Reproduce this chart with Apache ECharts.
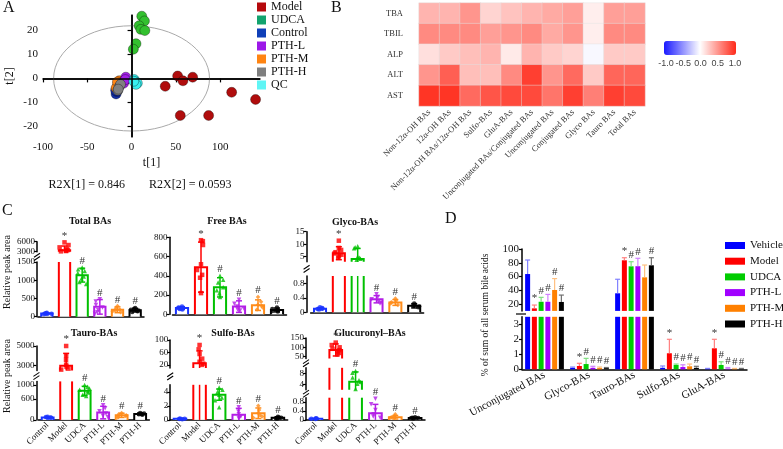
<!DOCTYPE html>
<html>
<head>
<meta charset="utf-8">
<script src="https://cdn.jsdelivr.net/npm/echarts@6/dist/echarts.min.js"></script>
<style>
  html, body { margin: 0; padding: 0; background: #fff; }
  #chart { width: 783px; height: 449px; }
</style>
</head>
<body>
<div id="chart"></div>
<script>
const SERIF = 'Liberation Serif';
const INK = '#111';

// ---------- A: PCA scores ----------
const pcaNames = ['Model', 'UDCA', 'Control', 'PTH-L', 'PTH-M', 'PTH-H', 'QC'];
const pcaLegendColors = ['#b5090c', '#12a36e', '#0f3fb8', '#9c18e8', '#ff8412', '#7f7f7f', '#5ff5f5'];
const pcaDotColors = ['#b00d0d', '#33c02f', '#1430a8', '#a21fe6', '#ff8515', '#808080', '#38f0f0'];
const pcaModel = [[52, 1], [58, -1], [69, 0.5], [38, -3.3], [55, -15.5], [87, -15.5], [113, -5.8], [140, -8.8]];
const pcaUDCA = [[11.5, 26], [14.5, 24], [8.5, 22], [10.5, 20.5], [15, 20], [5, 14.5], [2, 12.2]];
const pcaControl = [[-17.5, -6.5], [-16.5, -5.5], [-18, -5]];
const pcaPTHL = [[-6.5, 0.5], [-8, -1], [-9, -2], [-7, -0.5]];
const pcaPTHM = [[-14, -1], [-15.5, -2.5], [-17.5, -4], [-16, -1.5]];
const pcaPTHH = [[-14, -3.5], [-15.5, -5], [-12.5, -2.5], [-15, -4.5]];
const pcaQC = [[3, -0.5], [4.5, -1.5], [6.5, -2], [5, -2.5], [2.5, -1.2]];
const pcaSets = [pcaModel, pcaUDCA, pcaControl, pcaPTHL, pcaPTHM, pcaPTHH, pcaQC];
const pcaDrawOrder = [2, 4, 3, 5, 6, 1, 0];
const pcaXTicks = [-100, -50, 0, 50, 100];
const pcaYTicks = [-20, -10, 0, 10, 20];
const pcaEllipse = [88, 22];

// ---------- B: correlation heatmap ----------
const corrRows = ['TBA', 'TBIL', 'ALP', 'ALT', 'AST'];
const corrCols = ['Non-12α-OH BAs', '12α-OH BAs', 'Non-12α-OH BAs/12α-OH BAs', 'Sulfo-BAs', 'GluA-BAs',
  'Unconjugated BAs/Conjugated BAs', 'Unconjugated BAs', 'Conjugated BAs', 'Glyco BAs', 'Tauro BAs', 'Total BAs'];
const corrTBA  = [0.35, 0.35, 0.5, 0.2, 0.28, 0.35, 0.4, 0.45, 0.08, 0.45, 0.45];
const corrTBIL = [0.55, 0.55, 0.55, 0.45, 0.5, 0.55, 0.4, 0.5, 0.08, 0.55, 0.55];
const corrALP  = [0.15, 0.25, 0.3, 0.35, 0.1, 0.35, 0.25, 0.2, -0.03, 0.25, 0.25];
const corrALT  = [0.5, 0.75, 0.3, 0.3, 0.55, 0.9, 0.5, 0.7, 0.25, 0.72, 0.72];
const corrAST  = [0.95, 0.95, 0.7, 0.8, 0.85, 0.85, 0.65, 0.9, 0.6, 0.9, 0.85];
const corrMatrix = [corrTBA, corrTBIL, corrALP, corrALT, corrAST];

// ---------- C: bar + scatter panels ----------
const groups = ['Control', 'Model', 'UDCA', 'PTH-L', 'PTH-M', 'PTH-H'];
const groupColors = ['#1a33ff', '#ff0000', '#00c000', '#b31ee6', '#ff8c1a', '#000000'];
const groupSymbols = ['circle', 'rect', 'triangle', 'path://M0,0L10,0L5,9Z', 'diamond', 'circle'];

const totalMean = [88, 3400, 1140, 270, 190, 180];
const totalSd = [15, 1300, 190, 200, 80, 50];
const totalPts = [[110, 95, 90, 80, 75, 70], [5800, 5000, 4300, 3800, 3500, 3300, 3200, 3100],
  [1350, 1300, 1250, 1200, 1100, 1050, 950, 900], [480, 420, 320, 250, 180, 120, 80],
  [290, 230, 200, 170, 150, 120], [240, 210, 190, 170, 150, 130]];
const totalMarks = ['', '*', '#', '#', '#', '#'];
const totalTicksLow = [0, 500, 1000, 1500];
const totalTicksHigh = [3000, 6000];

const freeMean = [65, 490, 280, 80, 95, 45];
const freeSd = [15, 260, 100, 60, 55, 20];
const freePts = [[80, 70, 65, 60, 55, 50], [770, 760, 720, 520, 460, 410, 380, 220],
  [400, 360, 330, 280, 250, 220, 180], [150, 110, 80, 60, 50, 40],
  [180, 130, 100, 90, 70, 50], [70, 55, 45, 35, 30]];
const freeMarks = ['', '*', '#', '#', '#', '#'];
const freeTicks = [0, 200, 400, 600, 800];

const glycoMean = [0.1, 6.4, 4.1, 0.36, 0.27, 0.18];
const glycoSd = [0.03, 2.6, 4.2, 0.1, 0.08, 0.06];
const glycoPts = [[0.14, 0.12, 0.1, 0.09, 0.08], [11.4, 8.5, 7.7, 6.8, 6.3, 5.8, 5.2, 4.6],
  [9.2, 8.8, 8.4, 5.0, 4.6, 4.2, 3.8], [0.5, 0.42, 0.36, 0.3, 0.26, 0.24],
  [0.38, 0.32, 0.28, 0.24, 0.2], [0.24, 0.2, 0.18, 0.16, 0.14]];
const glycoMarks = ['', '*', '', '#', '#', '#'];
const glycoTicksLow = [0, 0.4, 0.8];
const glycoTicksHigh = [5, 10, 15];

const tauroMean = [70, 3000, 830, 210, 130, 170];
const tauroSd = [15, 1250, 130, 180, 60, 25];
const tauroPts = [[90, 80, 70, 60, 55], [5000, 4000, 3600, 3100, 2900, 2700, 2600],
  [1000, 950, 900, 860, 820, 780, 720, 680], [420, 330, 250, 180, 120, 80],
  [200, 160, 130, 110, 90, 70], [200, 185, 170, 160, 150]];
const tauroMarks = ['', '*', '#', '#', '#', '#'];
const tauroTicksLow = [0, 200, 600, 1000];
const tauroTicksHigh = [3000, 5000];

const sulfoMean = [0.15, 25, 3.6, 0.75, 0.95, 0.3];
const sulfoSd = [0.05, 40, 0.8, 0.9, 0.75, 0.15];
const sulfoPts = [[0.2, 0.15, 0.12, 0.1], [84, 70, 55, 40, 30, 24, 20],
  [4.6, 4.3, 4.0, 3.6, 3.2, 2.8, 1.8], [1.8, 1.2, 0.8, 0.5, 0.3, 0.2],
  [2.0, 1.4, 1.0, 0.7, 0.5, 0.3], [0.45, 0.35, 0.3, 0.25, 0.2]];
const sulfoMarks = ['', '*', '#', '#', '#', '#'];
const sulfoTicksLow = [0, 2, 4];
const sulfoTicksHigh = [20, 60, 100];

const glucMean = [0.05, 86, 4.9, 0.3, 0.12, 0.08];
const glucSd = [0.02, 32, 3.6, 0.4, 0.08, 0.04];
const glucPts = [[0.07, 0.06, 0.05, 0.04], [125, 112, 100, 92, 85, 78, 70, 62],
  [8.8, 8.2, 6.5, 5.5, 4.8, 4.2, 2.3], [0.95, 0.7, 0.45, 0.25, 0.15, 0.1],
  [0.25, 0.18, 0.12, 0.1, 0.08], [0.12, 0.1, 0.08, 0.07, 0.06]];
const glucMarks = ['', '*', '#', '#', '#', '#'];
const glucTicksLow = [0, 0.4, 0.8];
const glucTicksMid = [4, 8];
const glucTicksHigh = [50, 100, 150];

// ---------- D: % of serum bile acids ----------
const dCats = ['Unconjugated BAs', 'Glyco-BAs', 'Tauro-BAs', 'Sulfo-BAs', 'GluA-BAs'];
const dNames = ['Vehicle', 'Model', 'UDCA', 'PTH-L', 'PTH-M', 'PTH-H'];
const dColors = ['#0000ff', '#ff0000', '#00cc00', '#a000ff', '#ff8000', '#000000'];
const dErrColors = ['#8080ff', '#ff8080', '#80e080', '#d080ff', '#ffc080', '#707070'];
const dVehicle = [63.6, 0.1, 35.6, 0.1, 0.04];
const dModel = [13.7, 0.22, 83.6, 1.07, 1.4];
const dUDCA = [23.3, 0.35, 74.8, 0.29, 0.29];
const dPTHL = [23.3, 0.1, 75, 0.15, 0.05];
const dPTHM = [40.4, 0.08, 58.8, 0.2, 0.03];
const dPTHH = [23, 0.08, 76.3, 0.1, 0.03];
const dMeans = [dVehicle, dModel, dUDCA, dPTHL, dPTHM, dPTHH];
const dErrVehicle = [84, 0.15, 56, 0.22, 0.06];
const dErrModel = [18.5, 0.4, 87.3, 2.0, 2.0];
const dErrUDCA = [29.7, 0.73, 81.5, 0.35, 0.5];
const dErrPTHL = [34, 0.2, 86.5, 0.3, 0.12];
const dErrPTHM = [57, 0.15, 76.7, 0.35, 0.06];
const dErrPTHH = [33, 0.12, 87.3, 0.2, 0.06];
const dErrTops = [dErrVehicle, dErrModel, dErrUDCA, dErrPTHL, dErrPTHM, dErrPTHH];
const dMarks = [['', '', '', '', ''], ['*', '*', '*', '*', '*'], ['#', '#', '#', '#', '#'],
  ['#', '#', '#', '#', '#'], ['#', '#', '', '#', '#'], ['#', '#', '#', '#', '#']];
const dTicksLow = [0, 1, 2, 3];
const dTicksHigh = [20, 40, 60, 80, 100];

// ---------------------------------------------------------------
const chart = echarts.init(document.getElementById('chart'));
const grid = [], xAxis = [], yAxis = [], series = [], graphic = [];

function addGrid(g, xa, ya) {
  const i = grid.length;
  grid.push(g);
  xAxis.push(Object.assign({ gridIndex: i }, xa));
  yAxis.push(Object.assign({ gridIndex: i }, ya));
  return i;
}

function txt(x, y, text, size, extra) {
  graphic.push(Object.assign({
    type: 'text', x, y, silent: true,
    style: Object.assign({ text, fontFamily: SERIF, fontSize: size, fill: INK,
      align: 'left', verticalAlign: 'top', textAlign: 'left', textVerticalAlign: 'top' }, (extra && extra.style) || {})
  }, extra ? { rotation: extra.rotation || 0 } : {}));
}

// the little "//" drawn across a broken y axis
function breakMark(x, y) {
  [-1.6, 1.6].forEach(d => graphic.push({ type: 'line', silent: true, z: 10,
    shape: { x1: x - 3, y1: y + d + 2, x2: x + 3, y2: y + d - 2 }, style: { stroke: '#000', lineWidth: 1.1 } }));
}

const axisBlack = { color: '#000', width: 1.5 };
const tickBlack = { color: '#000', width: 1.2 };
const plainNum = v => String(v);

// custom bars / error bars / significance marks, clamped to one axis segment
function makeMarks(gi, seg, isTop, items) {
  return {
    type: 'custom', xAxisIndex: gi, yAxisIndex: gi, silent: true, z: 3,
    data: items.map(it => [it.x, seg.min]),
    renderItem(params, api) {
      const it = items[params.dataIndex];
      const band = api.size([1, 0])[0];
      const cx = api.coord([it.x, seg.min])[0] + (it.dx || 0);
      const cl = v => Math.max(seg.min, Math.min(seg.max, v));
      const py = v => api.coord([it.x, cl(v)])[1];
      const inside = v => v >= seg.min && v <= seg.max;
      const kids = [];
      if (it.bar != null && it.bar > seg.min) {
        const w = band * it.barFrac, x0 = cx - w / 2, x1 = cx + w / 2;
        const y0 = py(seg.min), y1 = py(it.bar);
        kids.push({ type: 'rect', shape: { x: x0, y: y1, width: w, height: y0 - y1 }, style: { fill: '#fff' } });
        const ln = { stroke: it.color, lineWidth: 2, fill: null };
        if (inside(it.bar)) {
          kids.push({ type: 'polyline', shape: { points: [[x0, y0], [x0, y1], [x1, y1], [x1, y0]] }, style: ln });
        } else {
          kids.push({ type: 'line', shape: { x1: x0, y1: y0, x2: x0, y2: y1 }, style: ln });
          kids.push({ type: 'line', shape: { x1: x1, y1: y0, x2: x1, y2: y1 }, style: ln });
        }
      }
      if (it.hi > seg.min && it.lo < seg.max) {
        const ya = py(it.lo), yb = py(it.hi);
        const st = { stroke: it.ecolor, lineWidth: it.lw };
        kids.push({ type: 'line', shape: { x1: cx, y1: ya, x2: cx, y2: yb }, style: st });
        if (inside(it.hi)) kids.push({ type: 'line', shape: { x1: cx - it.cap / 2, y1: yb, x2: cx + it.cap / 2, y2: yb }, style: st });
        if (it.capLo && inside(it.lo) && it.lo > seg.min) kids.push({ type: 'line', shape: { x1: cx - it.cap / 2, y1: ya, x2: cx + it.cap / 2, y2: ya }, style: st });
      }
      if (it.mark && it.top >= seg.min && (it.top <= seg.max || isTop)) {
        const ty = api.coord([it.x, it.top])[1] - 1;
        kids.push({ type: 'text', x: cx, y: ty, style: { text: it.mark, fontFamily: SERIF, fontSize: 11, fill: '#333',
          align: 'center', verticalAlign: 'bottom', textAlign: 'center', textVerticalAlign: 'bottom' } });
      }
      return { type: 'group', children: kids };
    }
  };
}

// ---------- A ----------
const gA = addGrid({ left: 43, top: 15, width: 217, height: 122 },
  { type: 'value', min: -100, max: 145, name: 't[1]', nameLocation: 'middle', nameGap: 20,
    nameTextStyle: { fontFamily: SERIF, fontSize: 12, color: INK },
    axisLine: { lineStyle: axisBlack }, axisTick: { customValues: pcaXTicks, length: 4, lineStyle: tickBlack },
    axisLabel: { customValues: pcaXTicks, fontFamily: SERIF, fontSize: 11, color: INK, margin: 5 }, splitLine: { show: false } },
  { type: 'value', min: -24.5, max: 26.5, name: 't[2]', nameLocation: 'middle', nameGap: 27,
    nameTextStyle: { fontFamily: SERIF, fontSize: 12, color: INK },
    axisLine: { lineStyle: axisBlack }, axisTick: { customValues: pcaYTicks, length: 4, lineStyle: tickBlack },
    axisLabel: { customValues: pcaYTicks, fontFamily: SERIF, fontSize: 11, color: INK, margin: 5 }, splitLine: { show: false } });

series.push({
  type: 'custom', xAxisIndex: gA, yAxisIndex: gA, silent: true, z: 1, data: [[0, 0]],
  renderItem(params, api) {
    const c = api.coord([0, 0]);
    const s = api.size([pcaEllipse[0], pcaEllipse[1]]);
    return { type: 'ellipse', shape: { cx: c[0], cy: c[1], rx: s[0], ry: s[1] }, style: { fill: null, stroke: '#a9a9a9', lineWidth: 1 } };
  },
  markLine: { silent: true, symbol: 'none', label: { show: false }, animation: false,
    lineStyle: { color: '#000', width: 1.5, type: 'solid' }, data: [{ xAxis: 0 }, { yAxis: 0 }] }
});
pcaDrawOrder.forEach(k => {
  series.push({ type: 'scatter', name: pcaNames[k], xAxisIndex: gA, yAxisIndex: gA, z: 2, data: pcaSets[k], symbolSize: 10,
    itemStyle: { color: pcaDotColors[k], borderColor: 'rgba(0,0,0,0.55)', borderWidth: 0.6, opacity: 1 } });
});
txt(140, 185, 'R2X[1] = 0.846        R2X[2] = 0.0593', 12, { style: { align: 'center', textAlign: 'center', verticalAlign: 'middle', textVerticalAlign: 'middle' } });

// ---------- B ----------
const gB = addGrid({ left: 419, top: 3, width: 226, height: 103 },
  { type: 'category', data: corrCols, axisLine: { show: false }, axisTick: { show: false },
    axisLabel: { rotate: 45, interval: 0, fontFamily: SERIF, fontSize: 8.5, color: '#333', margin: 5 } },
  { type: 'category', data: corrRows, inverse: true, axisLine: { show: false }, axisTick: { show: false },
    axisLabel: { fontFamily: SERIF, fontSize: 8.5, color: '#333', margin: 16 } });
const heatIndex = series.length;
series.push({ type: 'heatmap', xAxisIndex: gB, yAxisIndex: gB, silent: true,
  data: corrMatrix.flatMap((row, r) => row.map((v, c) => [c, r, v])),
  itemStyle: { borderColor: 'rgba(225,225,225,0.7)', borderWidth: 0.6 } });
const gCb = addGrid({ left: 666, top: 55, width: 69, height: 1 },
  { type: 'value', min: -1, max: 1, interval: 0.5, axisLine: { show: false }, axisTick: { show: false }, splitLine: { show: false },
    axisLabel: { formatter: v => v.toFixed(1), fontFamily: 'Liberation Sans', fontSize: 9, color: '#444', margin: 3 } },
  { type: 'value', show: false, min: 0, max: 1 });
series.push({ type: 'scatter', xAxisIndex: gCb, yAxisIndex: gCb, data: [], silent: true });

// ---------- C ----------
function addBarPanel(p) {
  const last = p.segs.length - 1;
  p.segs.forEach((s, k) => {
    const gi = addGrid({ left: p.left, width: p.width, top: s.top, height: s.bottom - s.top },
      { type: 'category', data: groups, show: k === 0, jitter: 10, jitterOverlap: false, jitterMargin: 2.5,
        axisLine: { lineStyle: axisBlack }, axisTick: { alignWithLabel: true, length: 3, lineStyle: tickBlack },
        axisLabel: { show: p.labels, interval: 0, rotate: 45, fontFamily: SERIF, fontSize: 9, color: INK, margin: 4 } },
      { type: 'value', min: s.min, max: s.max, offset: p.offset,
        axisLine: { show: true, lineStyle: axisBlack }, axisTick: { show: true, customValues: s.ticks, length: 3, lineStyle: tickBlack },
        axisLabel: { customValues: s.ticks, formatter: plainNum, showMinLabel: true, showMaxLabel: true,
          fontFamily: SERIF, fontSize: 9, color: INK, margin: 2 }, splitLine: { show: false } });
    series.push(makeMarks(gi, s, k === last, p.mean.map((v, i) => ({
      x: i, bar: v, barFrac: 0.64, color: groupColors[i], ecolor: groupColors[i], lw: 1.5, cap: 6, capLo: true,
      lo: Math.max(0, v - p.sd[i]), hi: v + p.sd[i], top: Math.max(v + p.sd[i], ...p.pts[i]), mark: p.marks[i]
    }))));
    series.push({ type: 'scatter', xAxisIndex: gi, yAxisIndex: gi, silent: true, clip: true, z: 4, symbolSize: 4.5,
      data: p.pts.flatMap((arr, i) => arr.map(v => ({ value: [i, v], symbol: groupSymbols[i], itemStyle: { color: groupColors[i] } }))) });
    if (k > 0) breakMark(p.left - p.offset, (p.segs[k - 1].top + s.bottom) / 2);
  });
  txt(p.tx, p.ty, p.title, 10, { style: { fontWeight: 'bold', align: 'center', textAlign: 'center', verticalAlign: 'middle', textVerticalAlign: 'middle' } });
}

addBarPanel({ title: 'Total BAs', tx: 90, ty: 221.5, left: 38, width: 106, offset: 1, labels: false,
  mean: totalMean, sd: totalSd, pts: totalPts, marks: totalMarks,
  segs: [{ min: 0, max: 1500, top: 262, bottom: 316.7, ticks: totalTicksLow },
         { min: 3000, max: 6000, top: 241.7, bottom: 251.7, ticks: totalTicksHigh }] });
addBarPanel({ title: 'Free BAs', tx: 227, ty: 221.5, left: 172.5, width: 114, offset: 3, labels: false,
  mean: freeMean, sd: freeSd, pts: freePts, marks: freeMarks,
  segs: [{ min: 0, max: 800, top: 237.3, bottom: 314.3, ticks: freeTicks }] });
addBarPanel({ title: 'Glyco-BAs', tx: 355, ty: 222, left: 310.6, width: 113, offset: 4, labels: false,
  mean: glycoMean, sd: glycoSd, pts: glycoPts, marks: glycoMarks,
  segs: [{ min: 0, max: 1.0, top: 276, bottom: 312.3, ticks: glycoTicksLow },
         { min: 3, max: 15, top: 231.7, bottom: 261.7, ticks: glycoTicksHigh }] });
addBarPanel({ title: 'Tauro-BAs', tx: 94, ty: 333, left: 38.4, width: 111, offset: 2, labels: true,
  mean: tauroMean, sd: tauroSd, pts: tauroPts, marks: tauroMarks,
  segs: [{ min: 0, max: 1100, top: 381.4, bottom: 424, ticks: tauroTicksLow },
         { min: 2500, max: 5000, top: 346, bottom: 370.6, ticks: tauroTicksHigh }] });
addBarPanel({ title: 'Sulfo-BAs', tx: 233, ty: 333, left: 170.2, width: 117.5, offset: 0, labels: true,
  mean: sulfoMean, sd: sulfoSd, pts: sulfoPts, marks: sulfoMarks,
  segs: [{ min: 0, max: 5, top: 384.8, bottom: 424, ticks: sulfoTicksLow },
         { min: 10, max: 100, top: 340, bottom: 368, ticks: sulfoTicksHigh }] });
addBarPanel({ title: 'Glucuronyl–BAs', tx: 370, ty: 333, left: 306, width: 119, offset: 0, labels: true,
  mean: glucMean, sd: glucSd, pts: glucPts, marks: glucMarks,
  segs: [{ min: 0, max: 1, top: 397.7, bottom: 422, ticks: glucTicksLow },
         { min: 2, max: 10, top: 367.8, bottom: 389.8, ticks: glucTicksMid },
         { min: 40, max: 150, top: 337.9, bottom: 358.6, ticks: glucTicksHigh }] });
txt(7, 272, 'Relative peak area', 10, { rotation: Math.PI / 2, style: { align: 'center', textAlign: 'center', verticalAlign: 'middle', textVerticalAlign: 'middle' } });
txt(7, 376, 'Relative peak area', 10, { rotation: Math.PI / 2, style: { align: 'center', textAlign: 'center', verticalAlign: 'middle', textVerticalAlign: 'middle' } });

// ---------- D ----------
const dSegs = [{ min: 0, max: 3.5, top: 316.8, bottom: 369.3, ticks: dTicksLow },
               { min: 10, max: 100, top: 249, bottom: 310.9, ticks: dTicksHigh }];
dSegs.forEach((s, k) => {
  const gi = addGrid({ left: 522, width: 225, top: s.top, height: s.bottom - s.top },
    { type: 'category', data: dCats, show: k === 0, axisLine: { lineStyle: axisBlack }, axisTick: { show: false },
      axisLabel: { interval: 0, rotate: 28, fontFamily: SERIF, fontSize: 11, color: INK, margin: 5 } },
    { type: 'value', min: s.min, max: s.max, axisLine: { show: true, lineStyle: axisBlack },
      axisTick: { show: true, customValues: s.ticks, length: 3, lineStyle: tickBlack },
      axisLabel: { customValues: s.ticks, formatter: plainNum, showMinLabel: true, showMaxLabel: true,
        fontFamily: SERIF, fontSize: 11, color: INK, margin: 3 }, splitLine: { show: false } });
  dNames.forEach((n, j) => {
    series.push({ type: 'bar', name: 'D-' + n, xAxisIndex: gi, yAxisIndex: gi, barWidth: 5, barGap: '35%', clip: true, silent: true,
      data: dMeans[j].map(v => (v > s.min ? v : '-')), itemStyle: { color: dColors[j] } });
  });
  const items = [];
  dNames.forEach((n, j) => dCats.forEach((c, i) => items.push({
    x: i, dx: (j - 2.5) * 6.75, bar: null, ecolor: dErrColors[j], lw: 1.2, cap: 5, capLo: false,
    lo: dMeans[j][i], hi: dErrTops[j][i], top: dErrTops[j][i], mark: dMarks[j][i]
  })));
  series.push(makeMarks(gi, s, k === dSegs.length - 1, items));
});
graphic.push({ type: 'line', silent: true, shape: { x1: 516, y1: 314, x2: 526, y2: 314 }, style: { stroke: '#000', lineWidth: 1.2 } });
txt(485, 315, '% of sum of all serum bile acids', 9.5, { rotation: Math.PI / 2, style: { align: 'center', textAlign: 'center', verticalAlign: 'middle', textVerticalAlign: 'middle' } });

// panel letters
txt(3, 0, 'A', 16);
txt(331, 0, 'B', 16);
txt(2, 203, 'C', 16);
txt(445, 211, 'D', 16);

chart.setOption({
  animation: false,
  textStyle: { fontFamily: SERIF },
  grid, xAxis, yAxis, series, graphic,
  visualMap: [{ type: 'continuous', min: -1, max: 1, seriesIndex: heatIndex, orient: 'horizontal', left: 664, top: 41,
    itemWidth: 14, itemHeight: 72, calculable: false, text: ['', ''], padding: 0,
    inRange: { color: ['#1a1aff', '#ffffff', '#ff2a1a'] } }],
  legend: [
    { left: 257, top: 1, orient: 'vertical', itemWidth: 9, itemHeight: 9, itemGap: 1, icon: 'rect', padding: 0,
      selectedMode: false, textStyle: { fontFamily: SERIF, fontSize: 12, color: INK, lineHeight: 9 },
      data: pcaNames.map((n, i) => ({ name: n, itemStyle: { color: pcaLegendColors[i], borderWidth: 0 } })) },
    { left: 725, top: 240, orient: 'vertical', itemWidth: 20, itemHeight: 7, itemGap: 4.7, icon: 'rect', padding: 0,
      selectedMode: false, formatter: n => n.slice(2), textStyle: { fontFamily: SERIF, fontSize: 11, color: INK, lineHeight: 11 },
      data: dNames.map((n, i) => ({ name: 'D-' + n, itemStyle: { color: dColors[i] } })) }
  ]
});
</script>
</body>
</html>
